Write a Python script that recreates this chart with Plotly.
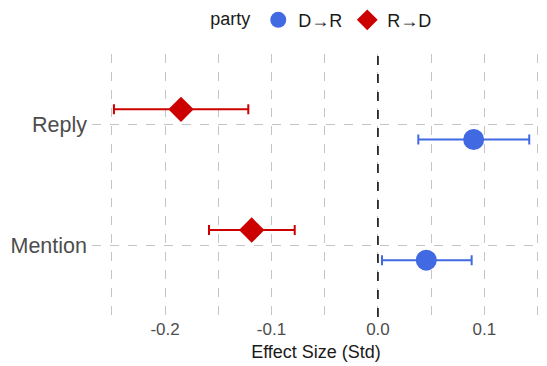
import plotly.graph_objects as go

# ---- data ----
categories = ["Mention", "Reply"]
parties = ["D→R", "R→D"]
dr_est = [0.0454, 0.0899]
dr_lo = [0.0038, 0.0379]
dr_hi = [0.0880, 0.1421]
rd_est = [-0.1186, -0.1850]
rd_lo = [-0.1587, -0.2480]
rd_hi = [-0.0782, -0.1218]
x_tickvals = [-0.2, -0.1, 0.0, 0.1]
x_ticktext = ["-0.2", "-0.1", "0.0", "0.1"]

# ---- styling ----
FONT = "Liberation Sans, Arial, Helvetica, sans-serif"
BLUE = "#4169E1"
RED = "#CD0000"
GRID = "#C4C4C4"
DODGE = 0.125

cat_pos = list(range(1, len(categories) + 1))

series = [
    (parties[0], dr_est, dr_lo, dr_hi, BLUE, "circle", 21, -DODGE),
    (parties[1], rd_est, rd_lo, rd_hi, RED, "diamond", 19.5, DODGE),
]

fig = go.Figure()
for name, est, lo, hi, col, sym, size, off in series:
    fig.add_trace(go.Scatter(
        x=est,
        y=[p + off for p in cat_pos],
        mode="markers",
        name=name,
        marker=dict(color=col, symbol=sym, size=size, line=dict(width=0)),
        error_x=dict(
            type="data", symmetric=False,
            array=[h - e for h, e in zip(hi, est)],
            arrayminus=[e - l for e, l in zip(est, lo)],
            color=col, thickness=2, width=5,
        ),
    ))

fig.add_vline(x=0, line=dict(color="black", width=1.5, dash="dash"))

fig.update_layout(
    width=547, height=366,
    margin=dict(l=92, r=7, t=54, b=46),
    paper_bgcolor="white", plot_bgcolor="white",
    font=dict(family=FONT, color="#1A1A1A"),
    legend=dict(
        orientation="h",
        title=dict(text="party", font=dict(size=18, color="#1A1A1A"), side="left"),
        font=dict(size=18, color="#1A1A1A"),
        xref="container", yref="container",
        x=0.59, y=0.945, xanchor="center", yanchor="middle",
        itemwidth=30, tracegroupgap=0,
    ),
    xaxis=dict(
        range=[-0.2686, 0.1522],
        tickvals=x_tickvals, ticktext=x_ticktext,
        showgrid=True, gridcolor=GRID, griddash="dash", gridwidth=1,
        minor=dict(dtick=0.05, tick0=0, showgrid=True, gridcolor=GRID,
                   griddash="dash", gridwidth=1),
        zeroline=False, showline=False, ticks="",
        tickfont=dict(size=17, color="#4D4D4D"),
        title=dict(text="Effect Size (Std)", font=dict(size=18, color="#1A1A1A"),
                   standoff=7),
    ),
    yaxis=dict(
        range=[0.404, 2.584],
        tickvals=cat_pos, ticktext=categories,
        showgrid=True, gridcolor=GRID, griddash="dash", gridwidth=1,
        zeroline=False, showline=False, ticks="",
        tickfont=dict(size=21.5, color="#4D4D4D"),
        ticklabelstandoff=4,
    ),
)

fig.write_html("out.html")
